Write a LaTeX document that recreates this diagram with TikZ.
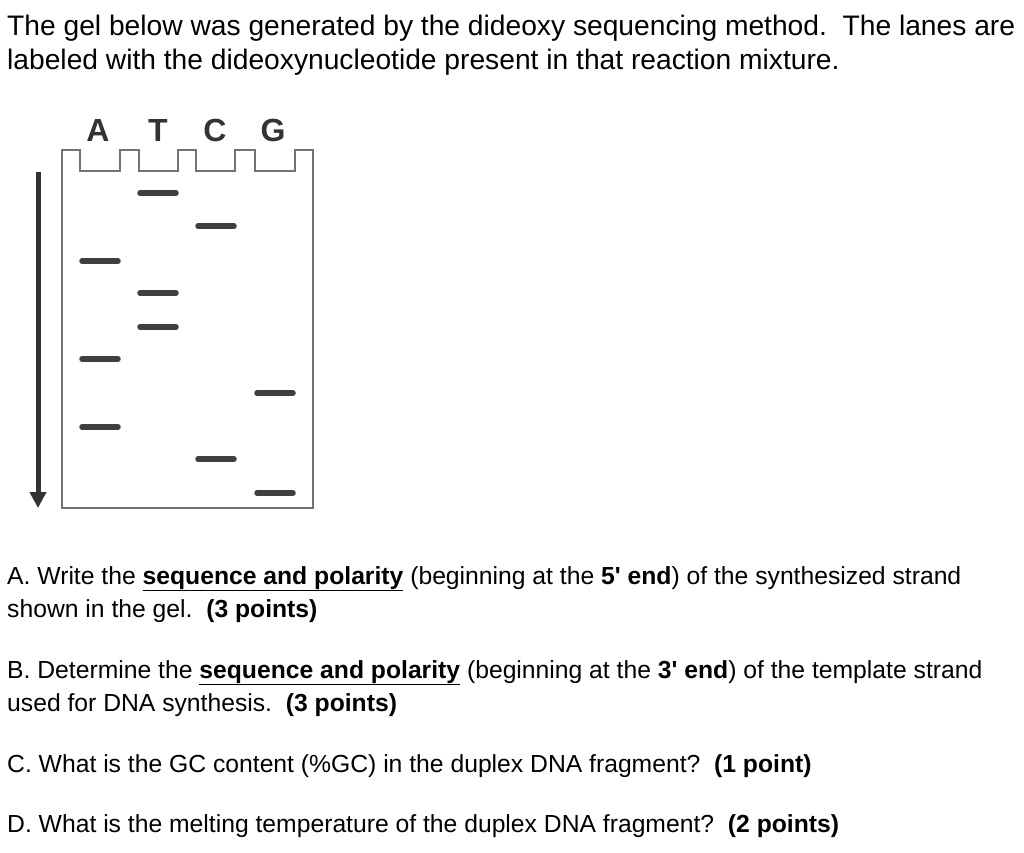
\documentclass[tikz,border=0pt]{standalone}
\usepackage{fontspec}
\setmainfont{Liberation Sans}
\usetikzlibrary{arrows.meta}
\begin{document}
\begin{tikzpicture}[x=1pt,y=-1pt,
  txt/.style={anchor=base west,inner sep=0pt,font=\fontsize{28.2}{32}\selectfont},
  qtxt/.style={anchor=base west,inner sep=0pt,font=\fontsize{24.7}{28}\selectfont},
  lane/.style={font=\fontsize{32}{36}\selectfont\bfseries,text=black!80,inner sep=0pt},
  band/.style={line width=5.5pt,draw=black!75,line cap=round},
  gel/.style={draw=black!55,line width=1.2pt}]
\useasboundingbox (0,0) rectangle (1024,852);
\node[txt] (t1) at (7,35) {The gel below was generated by the dideoxy sequencing method.\ \ The lanes are};
\node[txt] (t2) at (7,69) {labeled with the dideoxynucleotide present in that reaction mixture.};
% gel
\draw[gel] (62,508) -- (62,150) -- (80,150) -- (80,171) -- (120,171) -- (120,150)
  -- (139,150) -- (139,171) -- (178,171) -- (178,150)
  -- (196,150) -- (196,171) -- (235,171) -- (235,150)
  -- (255,150) -- (255,171) -- (295,171) -- (295,150)
  -- (313,150) -- (313,508) -- cycle;
\node[lane] (la) at (98,130) {A};
\node[lane] (lt) at (158,130) {T};
\node[lane] (lc) at (215,130) {C};
\node[lane] (lg) at (273,130) {G};
\foreach \x/\y in {140/193,198/226,82/261,140/293,140/327,82/359,257/393,82/427,198/459,257/493}
  \draw[band] (\x,\y) -- ++(36,0);
\coordinate (as) at (38,172);
\coordinate (ae) at (38,508);
\draw[line width=5pt,draw=black!80,-{Triangle[length=16pt,width=16pt]}] (as) -- (ae);
% questions
\node[qtxt] (qa1) at (7,584) {A. Write the \textbf{\underline{sequence and polarity}} (beginning at the \textbf{5\textquotesingle{} end}) of the synthesized strand};
\node[qtxt] (qa2) at (7,617) {shown in the gel.\ \ \textbf{(3 points)}};
\node[qtxt] (qb1) at (7,678) {B. Determine the \textbf{\underline{sequence and polarity}} (beginning at the \textbf{3\textquotesingle{} end}) of the template strand};
\node[qtxt] (qb2) at (7,711) {used for DNA synthesis.\ \ \textbf{(3 points)}};
\node[qtxt] (qc) at (7,772) {C. What is the GC content (\%GC) in the duplex DNA fragment?\ \ \textbf{(1 point)}};
\node[qtxt] (qd) at (7,832) {D. What is the melting temperature of the duplex DNA fragment?\ \ \textbf{(2 points)}};
\end{tikzpicture}
\end{document}
